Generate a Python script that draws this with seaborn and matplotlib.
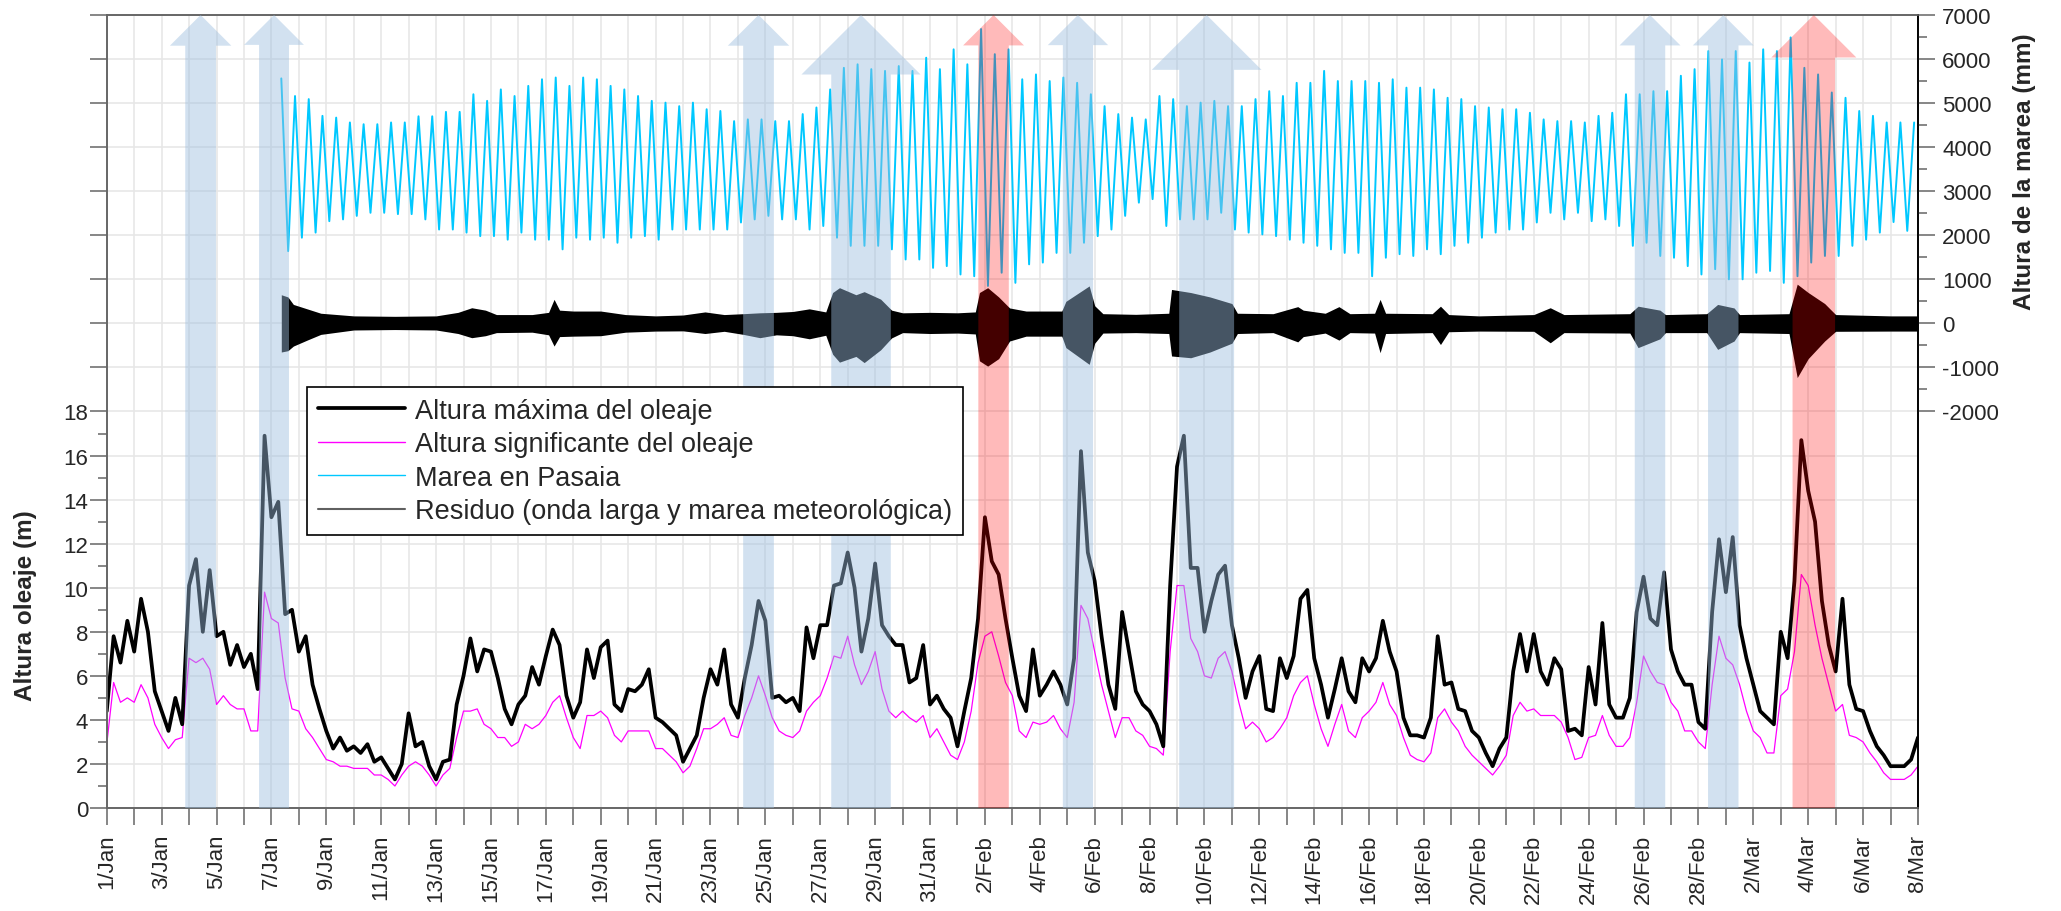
import numpy as np
import pandas as pd
import seaborn as sns
import matplotlib.pyplot as plt
from matplotlib.lines import Line2D
from matplotlib.patches import Polygon
from matplotlib.ticker import FixedLocator

# Oleaje y marea en Pasaia, 1/Jan - 8/Mar (tiempo en dias desde el 1 de enero)

# altura maxima del oleaje (m), cada 6 h desde el dia 0
hmax = [
    4.4, 7.8, 6.6, 8.5,   7.1, 9.5, 8.0, 5.3,   4.4, 3.5, 5.0, 3.8,
    10.1, 11.3, 8.0, 10.8,   7.8, 8.0, 6.5, 7.4,   6.4, 7.0, 5.4, 16.9,
    13.2, 13.9, 8.8, 9.0,   7.1, 7.8, 5.6, 4.5,   3.5, 2.7, 3.2, 2.6,
    2.8, 2.5, 2.9, 2.1,   2.3, 1.8, 1.3, 2.0,   4.3, 2.8, 3.0, 1.9,
    1.3, 2.1, 2.2, 4.7,   6.0, 7.7, 6.2, 7.2,   7.1, 5.9, 4.5, 3.8,
    4.7, 5.1, 6.4, 5.6,   6.9, 8.1, 7.4, 5.1,   4.1, 4.8, 7.2, 5.9,
    7.3, 7.6, 4.7, 4.4,   5.4, 5.3, 5.6, 6.3,   4.1, 3.9, 3.6, 3.3,
    2.1, 2.7, 3.3, 5.0,   6.3, 5.6, 7.2, 4.7,   4.1, 5.9, 7.4, 9.4,
    8.5, 5.0, 5.1, 4.8,   5.0, 4.4, 8.2, 6.8,   8.3, 8.3, 10.1, 10.2,
    11.6, 10.0, 7.1, 8.6,   11.1, 8.3, 7.8, 7.4,   7.4, 5.7, 5.9, 7.4,
    4.7, 5.1, 4.5, 4.1,   2.8, 4.4, 5.9, 8.6,   13.2, 11.2, 10.6, 8.6,
    6.8, 5.1, 4.4, 7.2,   5.1, 5.6, 6.2, 5.6,   4.7, 6.8, 16.2, 11.6,
    10.3, 7.8, 5.6, 4.5,   8.9, 7.1, 5.3, 4.7,   4.4, 3.8, 2.8, 10.1,
    15.5, 16.9, 10.9, 10.9,   8.0, 9.4, 10.6, 11.0,   8.3, 6.8, 5.0, 6.2,
    6.9, 4.5, 4.4, 6.8,   5.9, 6.9, 9.5, 9.9,   6.8, 5.6, 4.1, 5.4,
    6.8, 5.3, 4.8, 6.8,   6.2, 6.8, 8.5, 7.1,   6.2, 4.1, 3.3, 3.3,
    3.2, 4.1, 7.8, 5.6,   5.7, 4.5, 4.4, 3.5,   3.2, 2.5, 1.9, 2.7,
    3.2, 6.2, 7.9, 6.2,   7.9, 6.2, 5.6, 6.8,   6.3, 3.5, 3.6, 3.3,
    6.4, 4.7, 8.4, 4.7,   4.1, 4.1, 5.0, 8.9,   10.5, 8.6, 8.3, 10.7,
    7.2, 6.2, 5.6, 5.6,   3.9, 3.6, 8.9, 12.2,   9.8, 12.3, 8.3, 6.8,
    5.6, 4.4, 4.1, 3.8,   8.0, 6.8, 10.3, 16.7,   14.4, 13.0, 9.4, 7.4,
    6.2, 9.5, 5.6, 4.5,   4.4, 3.5, 2.8, 2.4,   1.9, 1.9, 1.9, 2.2,
    3.2,
]

# altura significante del oleaje (m), mismas horas
hs = [
    2.9, 5.7, 4.8, 5.0,   4.8, 5.6, 5.0, 3.8,   3.2, 2.7, 3.1, 3.2,
    6.8, 6.6, 6.8, 6.3,   4.7, 5.1, 4.7, 4.5,   4.5, 3.5, 3.5, 9.8,
    8.6, 8.4, 5.9, 4.5,   4.4, 3.6, 3.2, 2.7,   2.2, 2.1, 1.9, 1.9,
    1.8, 1.8, 1.8, 1.5,   1.5, 1.3, 1.0, 1.5,   1.9, 2.1, 1.9, 1.5,
    1.0, 1.5, 1.8, 3.2,   4.4, 4.4, 4.5, 3.8,   3.6, 3.2, 3.2, 2.8,
    3.0, 3.8, 3.6, 3.8,   4.2, 4.8, 5.1, 4.1,   3.2, 2.7, 4.2, 4.2,
    4.4, 4.1, 3.3, 3.0,   3.5, 3.5, 3.5, 3.5,   2.7, 2.7, 2.4, 2.1,
    1.6, 1.9, 2.7, 3.6,   3.6, 3.8, 4.1, 3.3,   3.2, 4.2, 5.0, 6.0,
    5.1, 4.1, 3.5, 3.3,   3.2, 3.5, 4.4, 4.8,   5.1, 5.9, 6.9, 6.8,
    7.8, 6.5, 5.6, 6.2,   7.1, 5.4, 4.4, 4.1,   4.4, 4.1, 3.9, 4.2,
    3.2, 3.6, 3.0, 2.4,   2.2, 3.0, 4.4, 6.6,   7.8, 8.0, 6.9, 5.7,
    5.1, 3.5, 3.2, 3.9,   3.8, 3.9, 4.2, 3.6,   3.2, 4.8, 9.2, 8.6,
    7.1, 5.6, 4.4, 3.2,   4.1, 4.1, 3.5, 3.3,   2.8, 2.7, 2.4, 7.1,
    10.1, 10.1, 7.7, 7.1,   6.0, 5.9, 6.8, 7.1,   6.2, 4.8, 3.6, 3.9,
    3.6, 3.0, 3.2, 3.6,   4.1, 5.1, 5.7, 6.0,   4.7, 3.6, 2.8, 3.8,
    4.7, 3.5, 3.2, 4.1,   4.4, 4.8, 5.7, 4.7,   4.2, 3.2, 2.4, 2.2,
    2.1, 2.5, 4.1, 4.5,   3.9, 3.5, 2.8, 2.4,   2.1, 1.8, 1.5, 1.9,
    2.4, 4.2, 4.8, 4.4,   4.5, 4.2, 4.2, 4.2,   3.9, 3.2, 2.2, 2.3,
    3.2, 3.3, 4.2, 3.3,   2.8, 2.8, 3.2, 4.8,   6.9, 6.2, 5.7, 5.6,
    4.8, 4.4, 3.5, 3.5,   3.0, 2.7, 5.6, 7.8,   6.8, 6.5, 5.6, 4.4,
    3.5, 3.2, 2.5, 2.5,   5.1, 5.4, 7.1, 10.6,   10.1, 8.3, 6.8, 5.6,
    4.4, 4.7, 3.3, 3.2,   3.0, 2.5, 2.1, 1.6,   1.3, 1.3, 1.3, 1.5,
    1.9,
]

# marea en Pasaia (mm): pleamares y bajamares alternas cada 6 h desde el dia 6.36
marea_inicio = 6.36
marea = [
    5560, 1640, 5160, 1945,   5090, 2060, 4710, 2320,   4670, 2360, 4560, 2440,
    4520, 2510, 4520, 2510,   4560, 2480, 4560, 2480,   4700, 2360, 4700, 2130,
    4800, 2130, 4800, 2060,   5200, 1980, 5050, 1980,   5310, 1900, 5160, 2060,
    5390, 1900, 5540, 1900,   5580, 1680, 5390, 1945,   5580, 1900, 5540, 1945,
    5390, 1830, 5310, 1945,   5160, 1980, 5050, 1900,   5010, 2130, 4930, 2130,
    5010, 2130, 4860, 2130,   4820, 2130, 4590, 2290,   4630, 2360, 4630, 2440,
    4590, 2360, 4590, 2360,   4750, 2130, 4900, 2210,   5310, 1945, 5800, 1760,
    5880, 1760, 5770, 1760,   5730, 1680, 5840, 1450,   5730, 1450, 6030, 1260,
    5770, 1300, 6220, 1110,   5880, 1070, 6680, 850,    6110, 1150, 6220, 920,
    5540, 1340, 5650, 1380,   5500, 1600, 5580, 1600,   5460, 1830, 5200, 1980,
    4930, 2130, 4750, 2440,   4670, 2740, 4630, 2820,   5160, 2210, 5090, 2360,
    4930, 2360, 5010, 2360,   5050, 2510, 4930, 2130,   4930, 2060, 5090, 2020,
    5270, 1980, 5160, 1900,   5460, 1830, 5460, 1760,   5730, 1680, 5500, 1600,
    5500, 1600, 5500, 1070,   5460, 1490, 5540, 1570,   5350, 1530, 5350, 1680,
    5310, 1570, 5120, 1760,   5090, 1830, 4930, 1945,   4900, 2060, 4860, 2130,
    4860, 2130, 4780, 2290,   4630, 2510, 4590, 2360,   4590, 2510, 4560, 2320,
    4710, 2360, 4780, 2210,   5200, 1760, 5200, 1830,   5270, 1530, 5270, 1490,
    5620, 1300, 5770, 1110,   6180, 1230, 5990, 1000,   6180, 1000, 5920, 1150,
    6220, 1190, 6180, 920,    6490, 1070, 5800, 1380,   5650, 1530, 5240, 1530,
    5120, 1760, 4820, 1900,   4710, 2060, 4560, 2300,   4560, 2100, 4560,
]

# residuo (onda larga y marea meteorologica): envolvente superior e inferior (mm)
res_t = [6.36, 6.6, 6.8, 7.3, 7.8, 9.0, 10.5, 12.0, 12.8, 13.3, 13.8, 14.2, 15.5,
         16.1, 16.3, 16.5, 17.0, 18.0, 18.9, 20.0, 21.0, 21.8, 22.5, 23.2, 23.8,
         24.4, 25.0, 25.6, 26.2, 26.45, 26.7, 27.3, 27.6, 28.2, 28.6, 29.0, 30.0,
         31.0, 31.65, 31.8, 32.1, 32.5, 32.9, 33.5, 34.8, 34.95, 35.8, 36.0, 36.3,
         37.5, 38.7, 38.8, 39.5, 40.2, 41.0, 41.2, 42.5, 43.4, 43.6, 44.4, 44.9,
         45.3, 46.2, 46.4, 46.6, 48.3, 48.6, 48.9, 50.0, 52.0, 52.6, 53.1, 55.5,
         55.8, 56.6, 56.8, 58.3, 58.7, 59.3, 59.5, 61.3, 61.6, 62.0, 62.6, 63.0,
         65.0, 66.0]
res_sup = [650, 600, 430, 330, 230, 170, 160, 170, 250, 355, 300, 200, 200,
           250, 545, 300, 280, 280, 200, 170, 190, 260, 200, 220, 240,
           250, 270, 330, 260, 700, 810, 650, 720, 550, 300, 240, 250,
           240, 260, 700, 810, 600, 350, 280, 280, 500, 850, 400, 220,
           205, 230, 770, 700, 600, 450, 230, 220, 380, 300, 230, 380,
           220, 230, 545, 230, 220, 390, 200, 170, 200, 355, 200, 220,
           390, 300, 200, 220, 430, 350, 200, 220, 890, 700, 450, 200,
           170, 170]
res_inf = [-650, -620, -515, -380, -250, -150, -140, -150, -230, -325, -280, -210, -200,
           -260, -515, -300, -290, -280, -200, -175, -170, -230, -180, -250, -325,
           -260, -280, -350, -270, -700, -880, -750, -890, -600, -330, -210, -230,
           -220, -240, -850, -970, -800, -400, -290, -290, -550, -930, -450, -220,
           -210, -230, -740, -780, -650, -450, -230, -210, -420, -300, -220, -380,
           -210, -220, -665, -230, -210, -480, -190, -175, -180, -440, -210, -220,
           -550, -350, -210, -210, -590, -400, -210, -230, -1230, -800, -400, -180,
           -175, -175]

# temporales marcados con flechas (dia de inicio y fin)
temporal_ini = [2.86, 5.55, 23.19, 26.40, 31.76, 34.84, 39.08, 55.68, 58.35, 61.43]
temporal_fin = [3.98, 6.64, 24.31, 28.57, 32.87, 35.94, 41.08, 56.79, 59.46, 62.98]
temporal_tipo = ["azul", "azul", "azul", "azul", "rojo", "azul", "azul", "azul", "azul", "rojo"]

colores_flecha = {"azul": ("#9cbedf", 0.45), "rojo": ("#ff0000", 0.27)}

t_ola = np.arange(len(hmax)) * 0.25
t_marea = marea_inicio + np.arange(len(marea)) * 0.25

fechas = pd.date_range("2014-01-01", "2014-03-08")
etiquetas = [f"{d.day}/{d.strftime('%b')}" if i % 2 == 0 else "" for i, d in enumerate(fechas)]

sns.set_theme(style="white")
plt.rcParams["font.family"] = ["Liberation Sans", "DejaVu Sans"]

gris = "#666666"
fs_ticks = 16
fig = plt.figure(figsize=(20.61, 9.12), dpi=100)
ax = fig.add_axes([0.0518, 0.1129, 0.8788, 0.8696])
ax2 = ax.twinx()

# oleaje (eje izquierdo)
sns.lineplot(x=t_ola, y=hs, ax=ax, color="#ff00ff", lw=0.9, estimator=None, sort=False, legend=False)
sns.lineplot(x=t_ola, y=hmax, ax=ax, color="black", lw=2.7, estimator=None, sort=False, legend=False)

ax.set_xlim(0, 66)
ax.set_ylim(0, 36)
ax.set_xticks(np.arange(len(fechas)))
ax.set_xticklabels(etiquetas, rotation=90, fontsize=fs_ticks)
ax.set_yticks(np.arange(0, 37, 2))
ax.set_yticklabels([str(v) if v <= 18 else "" for v in range(0, 37, 2)], fontsize=fs_ticks)
ax.yaxis.set_minor_locator(FixedLocator(np.arange(1, 18, 2)))
for tk in ax.yaxis.get_major_ticks():
    if tk.get_loc() > 18:
        tk.tick1line.set_visible(False)
ax.grid(True, which="major", color="#e6e6e6", lw=1.1)
ax.set_axisbelow(True)
ax.tick_params(axis="y", which="major", left=True, length=12.5, width=1.1, color=gris, pad=1)
ax.tick_params(axis="y", which="minor", left=True, length=6.5, width=1.1, color=gris)
ax.tick_params(axis="x", which="major", bottom=True, length=12.5, width=1.1, color=gris, pad=6)
ax.set_xlabel("")
ax.set_ylabel("")

# marea y residuo (eje derecho)
ax2.fill_between(res_t, res_inf, res_sup, color="black", lw=0, zorder=2)
sns.lineplot(x=t_marea, y=marea, ax=ax2, color="#00c8ff", lw=1.4, estimator=None, sort=False, legend=False)
ax2.set_ylim(-11000, 7000)
ax2.set_xlim(0, 66)
ax2.grid(False)
ax2.set_yticks(np.arange(-2000, 7001, 1000))
ax2.set_yticklabels([str(v) for v in range(-2000, 7001, 1000)], fontsize=fs_ticks)
ax2.yaxis.set_minor_locator(FixedLocator(np.arange(-1500, 7000, 1000)))
ax2.tick_params(axis="y", which="major", right=True, length=12.5, width=1.1, color=gris, pad=5)
ax2.tick_params(axis="y", which="minor", right=True, length=6.5, width=1.1, color=gris)
ax2.set_ylabel("")

for a in (ax, ax2):
    for lado in ("left", "bottom", "top"):
        a.spines[lado].set_color(gris)
        a.spines[lado].set_linewidth(1.2)
    a.spines["right"].set_color("black")
    a.spines["right"].set_linewidth(1.2)

# flechas de temporales
p0 = ax2.transData.transform((0, 0))
p1 = ax2.transData.transform((1, 1000))
px_dia = p1[0] - p0[0]
px_mm = (p1[1] - p0[1]) / 1000
y_bajo, y_alto = ax2.get_ylim()
for x0, x1, tipo in zip(temporal_ini, temporal_fin, temporal_tipo):
    w = x1 - x0
    xc = (x0 + x1) / 2
    cabeza = w * px_dia / px_mm
    yb = y_alto - cabeza
    pts = [(x0, y_bajo), (x1, y_bajo), (x1, yb), (xc + w, yb), (xc, y_alto), (xc - w, yb), (x0, yb)]
    color, alfa = colores_flecha[tipo]
    ax2.add_patch(Polygon(pts, closed=True, facecolor=color, alpha=alfa, edgecolor="none", zorder=6))

handles = [
    Line2D([], [], color="black", lw=2.7),
    Line2D([], [], color="#ff00ff", lw=1.0),
    Line2D([], [], color="#00c8ff", lw=1.0),
    Line2D([], [], color="#606060", lw=1.5),
]
nombres = ["Altura máxima del oleaje", "Altura significante del oleaje",
           "Marea en Pasaia", "Residuo (onda larga y marea meteorológica)"]
leg = ax2.legend(handles, nombres, loc="upper left", bbox_to_anchor=(0.1106, 0.531),
                 fontsize=19.5, frameon=True, fancybox=False, edgecolor="black",
                 framealpha=1, borderaxespad=0, borderpad=0.4, labelspacing=0.28,
                 handlelength=3.2, handletextpad=0.38)
leg.get_frame().set_linewidth(1.2)
leg.set_zorder(10)

fig.text(26 / 2061, 1 - 606 / 912, "Altura oleaje (m)", rotation=90, ha="center", va="center",
         fontsize=17.5, fontweight="bold")
fig.text(2025 / 2061, 1 - 172 / 912, "Altura de la marea (mm)", rotation=90, ha="center", va="center",
         fontsize=17.5, fontweight="bold")

fig.savefig("out.png", dpi=100)
